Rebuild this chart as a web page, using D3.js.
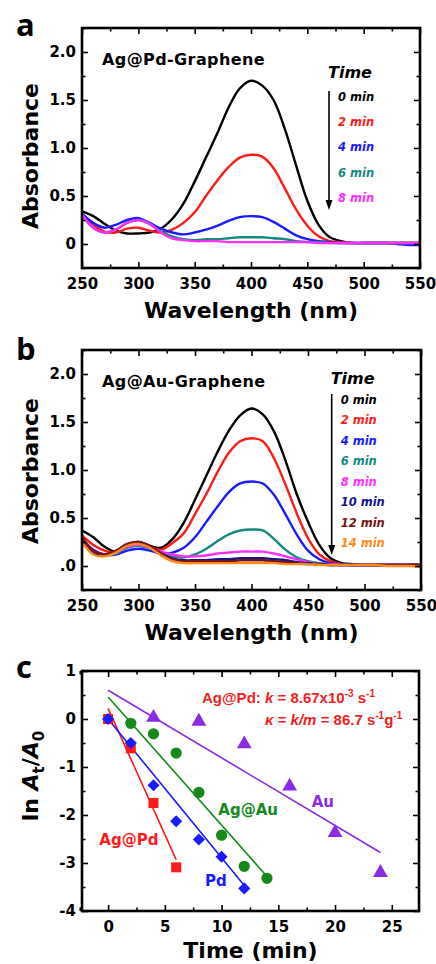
<!DOCTYPE html>
<html>
<head>
<meta charset="utf-8">
<script src="https://cdn.jsdelivr.net/npm/d3@7"></script>
<style>
  body { margin: 0; background: #fff; }
  text { font-family: "DejaVu Sans", sans-serif; font-weight: bold; fill: #000; }
</style>
</head>
<body>
<script>
// wavelength grid shared by both spectra panels (nm)
const wavelength = [250, 260, 270, 280, 290, 300, 310, 320, 330, 340, 350, 360, 370, 380, 390, 400,
  410, 420, 430, 440, 450, 460, 470, 480, 490, 500, 510, 520, 530, 540, 550];

// panel a: Ag@Pd-Graphene
const pdTimes = ['0 min', '2 min', '4 min', '6 min', '8 min'];
const pdColors = ['#000000', '#ff1a1a', '#1a1aff', '#138a80', '#ff2cff'];
const pdAbs = [
  [0.34, 0.29, 0.21, 0.14, 0.11, 0.11, 0.12, 0.16, 0.26, 0.42, 0.65, 0.90, 1.15, 1.42, 1.62, 1.70, 1.65, 1.50, 1.20, 0.82, 0.45, 0.20, 0.07, 0.03, 0.01, 0.01, 0.01, 0.01, 0.01, 0.01, 0.01],
  [0.30, 0.20, 0.13, 0.12, 0.16, 0.17, 0.14, 0.12, 0.15, 0.22, 0.33, 0.50, 0.66, 0.80, 0.90, 0.93, 0.91, 0.79, 0.58, 0.36, 0.19, 0.08, 0.03, 0.02, 0.01, 0.01, 0.01, 0.01, 0.01, 0.01, 0.01],
  [0.32, 0.22, 0.17, 0.20, 0.25, 0.27, 0.22, 0.16, 0.12, 0.10, 0.12, 0.15, 0.19, 0.24, 0.28, 0.29, 0.28, 0.23, 0.16, 0.09, 0.05, 0.03, 0.02, 0.01, 0.01, 0.01, 0.01, 0.01, 0.00, -0.01, -0.01],
  [0.30, 0.17, 0.12, 0.15, 0.22, 0.25, 0.21, 0.13, 0.08, 0.05, 0.04, 0.05, 0.05, 0.06, 0.07, 0.07, 0.07, 0.06, 0.05, 0.03, 0.02, 0.02, 0.01, 0.01, 0.01, 0.01, 0.01, 0.01, 0.01, 0.01, 0.01],
  [0.31, 0.17, 0.12, 0.15, 0.22, 0.25, 0.21, 0.12, 0.06, 0.04, 0.03, 0.03, 0.03, 0.02, 0.02, 0.02, 0.02, 0.02, 0.02, 0.02, 0.02, 0.01, 0.01, 0.01, 0.01, 0.01, 0.01, 0.01, 0.01, 0.01, 0.01]
];

// panel b: Ag@Au-Graphene
const auTimes = ['0 min', '2 min', '4 min', '6 min', '8 min', '10 min', '12 min', '14 min'];
const auColors = ['#000000', '#ff1a1a', '#1a1aff', '#138a80', '#ff2cff', '#16168a', '#7a1414', '#ff8a1a'];
const auAbs = [
  [0.37, 0.30, 0.20, 0.15, 0.22, 0.25, 0.21, 0.19, 0.28, 0.45, 0.69, 0.94, 1.19, 1.41, 1.57, 1.64, 1.58, 1.40, 1.10, 0.75, 0.46, 0.22, 0.08, 0.03, 0.02, 0.01, 0.01, 0.01, 0.01, 0.01, 0.01],
  [0.32, 0.22, 0.16, 0.14, 0.21, 0.23, 0.20, 0.17, 0.24, 0.34, 0.54, 0.75, 0.98, 1.18, 1.30, 1.33, 1.30, 1.12, 0.85, 0.55, 0.29, 0.12, 0.05, 0.02, 0.01, 0.01, 0.01, 0.01, 0.01, 0.01, 0.01],
  [0.28, 0.17, 0.12, 0.12, 0.16, 0.18, 0.16, 0.13, 0.14, 0.19, 0.30, 0.46, 0.62, 0.77, 0.86, 0.88, 0.86, 0.74, 0.54, 0.33, 0.16, 0.07, 0.03, 0.02, 0.01, 0.01, 0.01, 0.01, 0.01, 0.01, 0.01],
  [0.25, 0.14, 0.11, 0.13, 0.19, 0.21, 0.18, 0.14, 0.10, 0.09, 0.12, 0.18, 0.26, 0.33, 0.37, 0.38, 0.37, 0.28, 0.17, 0.09, 0.05, 0.03, 0.02, 0.01, 0.01, 0.01, 0.01, 0.01, 0.01, 0.01, 0.01],
  [0.26, 0.14, 0.11, 0.14, 0.20, 0.22, 0.19, 0.15, 0.12, 0.10, 0.10, 0.11, 0.13, 0.14, 0.15, 0.15, 0.15, 0.13, 0.10, 0.07, 0.04, 0.02, 0.02, 0.01, 0.01, 0.01, 0.01, 0.01, 0.01, 0.01, 0.01],
  [0.27, 0.13, 0.11, 0.15, 0.22, 0.24, 0.20, 0.13, 0.08, 0.06, 0.06, 0.06, 0.07, 0.07, 0.08, 0.08, 0.08, 0.07, 0.06, 0.04, 0.03, 0.02, 0.01, 0.01, 0.01, 0.01, 0.01, 0.01, 0.01, 0.01, 0.01],
  [0.30, 0.16, 0.12, 0.16, 0.23, 0.25, 0.21, 0.13, 0.07, 0.05, 0.05, 0.05, 0.05, 0.05, 0.06, 0.06, 0.06, 0.05, 0.04, 0.03, 0.02, 0.02, 0.01, 0.01, 0.01, 0.01, 0.01, 0.01, 0.01, 0.01, 0.01],
  [0.25, 0.12, 0.10, 0.14, 0.21, 0.23, 0.19, 0.11, 0.05, 0.03, 0.03, 0.03, 0.03, 0.03, 0.03, 0.03, 0.03, 0.03, 0.02, 0.02, 0.02, 0.01, 0.01, 0.01, 0.01, 0.01, 0.01, 0.00, 0.00, 0.00, -0.01]
];

const wlTicks = [250, 300, 350, 400, 450, 500, 550];
const absTicks = [0, 0.5, 1.0, 1.5, 2.0];
const absLabelsA = ['0', '0.5', '1.0', '1.5', '2.0'];
const absLabelsB = ['.0', '0.5', '1.0', '1.5', '2.0'];

// panel c: kinetics ln(At/A0) vs time
const kinNames = ['Ag@Pd', 'Pd', 'Ag@Au', 'Au'];
const kinColors = ['#ff1a1a', '#1a1aff', '#138a1a', '#8b2be8'];
const kinTime = [
  [0, 2, 4, 6],
  [0, 2, 4, 6, 8, 10, 12],
  [2, 4, 6, 8, 10, 12, 14],
  [4, 8, 12, 16, 20, 24]
];
const kinLn = [
  [0, -0.61, -1.75, -3.09],
  [0, -0.50, -1.38, -2.13, -2.51, -2.87, -3.53],
  [-0.09, -0.31, -0.71, -1.53, -2.42, -3.07, -3.32],
  [0.03, -0.05, -0.52, -1.40, -2.37, -3.20]
];
// linear fits: [t, ln] at start and end
const fitStart = [[0, 0.22], [0, 0.0], [0, 0.46], [0, 0.60]];
const fitEnd = [[6, -2.93], [12, -3.47], [14, -3.28], [24, -2.78]];
const timeTicks = [0, 5, 10, 15, 20, 25];
const lnTicks = [1, 0, -1, -2, -3, -4];

const svg = d3.select('body').append('svg')
  .attr('width', 436)
  .attr('height', 964);

// plain hyphen for negatives, like the original
const plain = d => String(d);

// ticks on all four sides, pointing inwards
function frame(g, x, y, w, h, xMajor, xMinor, yMajor, yMinor, yFmt) {
  const style = a => {
    a.select('.domain').remove();
    a.selectAll('line').attr('stroke', '#000').attr('stroke-width', 1.6);
    a.selectAll('text').attr('font-size', 15).attr('fill', '#000')
      .style('font-family', '"DejaVu Sans", sans-serif').style('font-weight', 'bold');
  };
  g.append('g').attr('transform', `translate(0,${h})`)
    .call(d3.axisBottom(x).tickValues(xMajor).tickSize(-6).tickPadding(10).tickFormat(plain)).call(style);
  g.append('g').attr('transform', `translate(0,${h})`)
    .call(d3.axisBottom(x).tickValues(xMinor).tickSize(-3.5).tickFormat('')).call(style);
  g.append('g')
    .call(d3.axisTop(x).tickValues(xMajor).tickSize(-6).tickFormat('')).call(style);
  g.append('g')
    .call(d3.axisTop(x).tickValues(xMinor).tickSize(-3.5).tickFormat('')).call(style);
  g.append('g')
    .call(d3.axisLeft(y).tickValues(yMajor).tickSize(-6).tickPadding(6).tickFormat(yFmt)).call(style);
  g.append('g')
    .call(d3.axisLeft(y).tickValues(yMinor).tickSize(-3.5).tickFormat('')).call(style);
  g.append('g').attr('transform', `translate(${w},0)`)
    .call(d3.axisRight(y).tickValues(yMajor).tickSize(-6).tickFormat('')).call(style);
  g.append('g').attr('transform', `translate(${w},0)`)
    .call(d3.axisRight(y).tickValues(yMinor).tickSize(-3.5).tickFormat('')).call(style);
  g.append('rect')
    .attr('width', w).attr('height', h)
    .attr('fill', 'none').attr('stroke', '#000').attr('stroke-width', 2.6);
}

function spectra(o) {
  const g = svg.append('g').attr('transform', `translate(${o.left},${o.top})`);
  const x = d3.scaleLinear().domain([250, 550]).range([0, o.w]);
  const y = d3.scaleLinear().domain([-0.25, 2.25]).range([o.h, 0]);

  const line = d3.line()
    .x((d, i) => x(wavelength[i]))
    .y(d => y(d))
    .curve(d3.curveCatmullRom);

  g.selectAll('path.spec')
    .data(o.abs)
    .join('path')
    .attr('class', 'spec')
    .attr('d', line)
    .attr('fill', 'none')
    .attr('stroke', (d, i) => o.colors[i])
    .attr('stroke-width', 2.4);

  frame(g, x, y, o.w, o.h,
    wlTicks, [275, 325, 375, 425, 475, 525],
    absTicks, [-0.25, 0.25, 0.75, 1.25, 1.75, 2.25],
    (d, i) => o.yLabels[i]);

  g.append('text')
    .attr('x', 20).attr('y', o.titleY)
    .attr('font-size', 16).attr('letter-spacing', 0.4)
    .text(o.title);

  // legend
  g.append('text')
    .attr('x', o.legX - 10).attr('y', o.timeY)
    .attr('font-size', 16).attr('font-style', 'italic')
    .text('Time');

  g.selectAll('text.leg')
    .data(o.times)
    .join('text')
    .attr('class', 'leg')
    .attr('x', o.legX)
    .attr('y', (d, i) => o.leg0 + i * o.legStep)
    .attr('font-size', 11.5).attr('font-style', 'italic')
    .style('fill', (d, i) => o.colors[i])
    .text(d => d);

  g.append('line')
    .attr('x1', o.arrowX).attr('x2', o.arrowX)
    .attr('y1', o.arrowY1).attr('y2', o.arrowY2 - 8)
    .attr('stroke', '#000').attr('stroke-width', 1.6);
  g.append('path')
    .attr('d', `M${o.arrowX - 3.5},${o.arrowY2 - 10}L${o.arrowX + 3.5},${o.arrowY2 - 10}L${o.arrowX},${o.arrowY2}Z`)
    .attr('fill', '#000');

  // axis titles
  svg.append('text')
    .attr('transform', `translate(38,${o.absY}) rotate(-90)`)
    .attr('text-anchor', 'middle')
    .attr('font-size', 22)
    .text('Absorbance');
  svg.append('text')
    .attr('x', o.left + o.w / 2).attr('y', o.top + o.h + 50)
    .attr('text-anchor', 'middle')
    .attr('font-size', 22)
    .text('Wavelength (nm)');

  svg.append('text')
    .attr('x', 16).attr('y', o.top + o.letterDy)
    .style('font-family', '"Open Sans", sans-serif')
    .attr('font-size', 31)
    .text(o.letter);
}

spectra({
  left: 82, top: 28, w: 338, h: 240,
  abs: pdAbs, colors: pdColors, times: pdTimes, yLabels: absLabelsA,
  title: 'Ag@Pd-Graphene', titleY: 36.5,
  legX: 256, timeY: 49.5, leg0: 72.7, legStep: 25.3,
  arrowX: 247, arrowY1: 63, arrowY2: 182,
  absY: 156, letter: 'a', letterDy: 7.5
});

spectra({
  left: 82, top: 350, w: 339, h: 240,
  abs: auAbs, colors: auColors, times: auTimes, yLabels: absLabelsB,
  title: 'Ag@Au-Graphene', titleY: 37.3,
  legX: 258.7, timeY: 34, leg0: 54, legStep: 20.47,
  arrowX: 249.7, arrowY1: 44, arrowY2: 205,
  absY: 471, letter: 'b', letterDy: 10
});

// panel c
(function () {
  const left = 82, top = 671, w = 337, h = 240;
  const g = svg.append('g').attr('transform', `translate(${left},${top})`);
  const x = d3.scaleLinear().domain([-2.3, 27.4]).range([0, w]);
  const y = d3.scaleLinear().domain([-4, 1]).range([h, 0]);

  g.selectAll('line.fit')
    .data(fitStart)
    .join('line')
    .attr('class', 'fit')
    .attr('x1', d => x(d[0])).attr('y1', d => y(d[1]))
    .attr('x2', (d, i) => x(fitEnd[i][0])).attr('y2', (d, i) => y(fitEnd[i][1]))
    .attr('stroke', (d, i) => kinColors[i])
    .attr('stroke-width', 1.6);

  const shapes = [
    d3.symbol(d3.symbolSquare, 100),
    d3.symbol(d3.symbolSquare, 74),
    d3.symbol(d3.symbolCircle, 100),
    d3.symbol(d3.symbolTriangle, 95)
  ];
  kinNames.forEach((name, k) => {
    g.selectAll(`path.pt${k}`)
      .data(kinTime[k])
      .join('path')
      .attr('class', `pt${k}`)
      .attr('d', shapes[k])
      .attr('transform', (d, i) => `translate(${x(d)},${y(kinLn[k][i])})${k === 1 ? ' rotate(45)' : ''}`)
      .attr('fill', kinColors[k]);
  });

  frame(g, x, y, w, h,
    timeTicks, [-2.5, 2.5, 7.5, 12.5, 17.5, 22.5],
    lnTicks, [0.5, -0.5, -1.5, -2.5, -3.5],
    plain);

  // series labels
  const labelPos = [[17.3, 174], [123, 215], [136.3, 144], [229.7, 135.7]];
  g.selectAll('text.series')
    .data(kinNames)
    .join('text')
    .attr('class', 'series')
    .attr('x', (d, i) => labelPos[i][0])
    .attr('y', (d, i) => labelPos[i][1])
    .attr('font-size', 15)
    .style('fill', (d, i) => kinColors[i])
    .text(d => d);

  // rate constant annotation
  const ann = g.append('g')
    .style('font-family', '"Liberation Sans", Arial, sans-serif')
    .attr('font-size', 15);
  const t1 = ann.append('text').attr('x', 120).attr('y', 32).style('fill', '#f21d1d')
    .style('font-family', '"Liberation Sans", Arial, sans-serif');
  t1.append('tspan').text('Ag@Pd: ');
  t1.append('tspan').attr('font-style', 'italic').text('k');
  t1.append('tspan').text(' = 8.67x10');
  t1.append('tspan').attr('font-size', 10).attr('dy', -6).text('-3');
  t1.append('tspan').attr('dy', 6).text(' s');
  t1.append('tspan').attr('font-size', 10).attr('dy', -6).text('-1');

  const t2 = ann.append('text').attr('x', 183).attr('y', 54).style('fill', '#f21d1d')
    .style('font-family', '"Liberation Sans", Arial, sans-serif');
  t2.append('tspan').attr('font-style', 'italic').text('κ');
  t2.append('tspan').text(' = ');
  t2.append('tspan').attr('font-style', 'italic').text('k/m');
  t2.append('tspan').text(' = 86.7 s');
  t2.append('tspan').attr('font-size', 10).attr('dy', -6).text('-1');
  t2.append('tspan').attr('dy', 6).text('g');
  t2.append('tspan').attr('font-size', 10).attr('dy', -6).text('-1');

  // axis titles
  const yl = svg.append('text')
    .attr('transform', `translate(38,776) rotate(-90)`)
    .attr('text-anchor', 'middle')
    .attr('font-size', 22);
  yl.append('tspan').text('ln ');
  yl.append('tspan').attr('font-style', 'italic').text('A');
  yl.append('tspan').attr('font-size', 15).attr('dy', 6).text('t');
  yl.append('tspan').attr('dy', -6).text('/');
  yl.append('tspan').attr('font-style', 'italic').text('A');
  yl.append('tspan').attr('font-size', 15).attr('dy', 6).text('0');

  svg.append('text')
    .attr('x', left + w / 2).attr('y', 958)
    .attr('text-anchor', 'middle')
    .attr('font-size', 22)
    .text('Time (min)');

  svg.append('text')
    .attr('x', 16).attr('y', 678)
    .style('font-family', '"Open Sans", sans-serif')
    .attr('font-size', 31)
    .text('c');
})();
</script>
</body>
</html>
